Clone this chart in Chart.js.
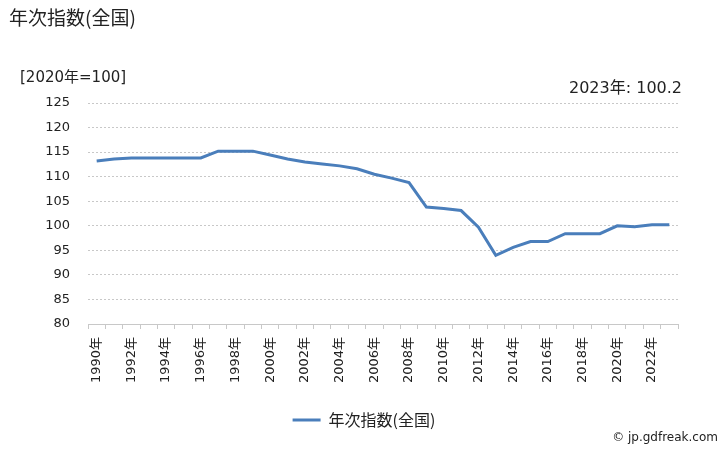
<!DOCTYPE html>
<html>
<head>
<meta charset="utf-8">
<script src="https://cdn.jsdelivr.net/npm/chart.js@4/dist/chart.umd.min.js"></script>
<style>
    html, body { margin: 0; padding: 0; background: #fff; }
    #wrap { width: 728px; height: 450px; position: relative; }
</style>
</head>
<body>
<div id="wrap"><canvas id="chart" width="728" height="450"></canvas></div>
<script>
const FONT = '"DejaVu Sans", "Noto Sans CJK JP", sans-serif';
const JP_FONT = '"Noto Sans CJK JP", sans-serif';

// データ
const years = [];
for (let y = 1990; y <= 2023; y++) years.push(y + '年');
const values = [113.2, 113.6, 113.8, 113.8, 113.8, 113.8, 113.8, 115.2, 115.2, 115.2,
                114.4, 113.6, 113.0, 112.6, 112.2, 111.6, 110.5, 109.7, 108.8, 103.8,
                103.5, 103.1, 99.7, 94.0, 95.6, 96.8, 96.8, 98.4, 98.4, 98.4,
                100.0, 99.8, 100.2, 100.2];
const yTicks = [80, 85, 90, 95, 100, 105, 110, 115, 120, 125];
const seriesName = '年次指数(全国)';
const unitLabel = '[2020年=100]';
const latestLabel = '2023年: 100.2';
const credit = '© jp.gdfreak.com';

// タイトルなどの文字
const textPlugin = {
    id: 'texts',
    afterDraw(chart) {
        const ctx = chart.ctx;
        ctx.save();
        ctx.fillStyle = '#222';
        ctx.textBaseline = 'middle';
        ctx.textAlign = 'left';
        ctx.font = '19px ' + JP_FONT;
        ctx.fillText(seriesName, 9, 18);
        ctx.font = '15px ' + FONT;
        ctx.fillText(unitLabel, 20, 78);
        ctx.font = '16px ' + FONT;
        ctx.textAlign = 'right';
        ctx.fillText(latestLabel, 682, 89);
        ctx.font = '12px ' + FONT;
        ctx.fillText(credit, 718, 438);
        ctx.restore();
    }
};

const ctx = document.getElementById('chart').getContext('2d');
new Chart(ctx, {
    type: 'line',
    data: {
        labels: years,
        datasets: [{
            label: seriesName,
            data: values,
            borderColor: '#4a7ebb',
            backgroundColor: '#4a7ebb',
            borderWidth: 3,
            pointRadius: 0,
            tension: 0,
            fill: false
        }]
    },
    options: {
        responsive: false,
        animation: false,
        layout: { padding: { top: 103, right: 0, left: 0, bottom: 12 } },
        scales: {
            x: {
                offset: true,
                afterFit: s => { s.height = 78; },
                grid: {
                    offset: true,
                    drawOnChartArea: false,
                    drawTicks: true,
                    tickLength: 5,
                    color: '#c8c8c8'
                },
                border: { color: '#c8c8c8' },
                ticks: {
                    autoSkip: false,
                    minRotation: 90,
                    maxRotation: 90,
                    padding: 8,
                    color: '#222',
                    font: { family: FONT, size: 13 },
                    callback: (v, i) => i % 2 === 0 ? years[i] : ''
                }
            },
            y: {
                min: yTicks[0],
                max: yTicks[yTicks.length - 1],
                afterFit: s => { s.width = 88; },
                afterBuildTicks: s => { s.ticks = yTicks.map(v => ({ value: v })); },
                grid: {
                    color: '#c8c8c8',
                    drawTicks: false
                },
                border: { display: false, dash: [2, 2] },
                ticks: {
                    padding: 18,
                    color: '#222',
                    font: { family: FONT, size: 13 }
                }
            },
            // 右側の余白用
            yRight: {
                position: 'right',
                min: yTicks[0],
                max: yTicks[yTicks.length - 1],
                afterFit: s => { s.width = 50; },
                grid: { display: false },
                border: { display: false },
                ticks: { display: false }
            }
        },
        plugins: {
            legend: {
                position: 'bottom',
                labels: {
                    usePointStyle: true,
                    pointStyle: 'line',
                    pointStyleWidth: 28,
                    color: '#222',
                    font: { family: JP_FONT, size: 16 },
                    padding: 10
                }
            },
            tooltip: { enabled: false }
        }
    },
    plugins: [textPlugin]
});
</script>
</body>
</html>
